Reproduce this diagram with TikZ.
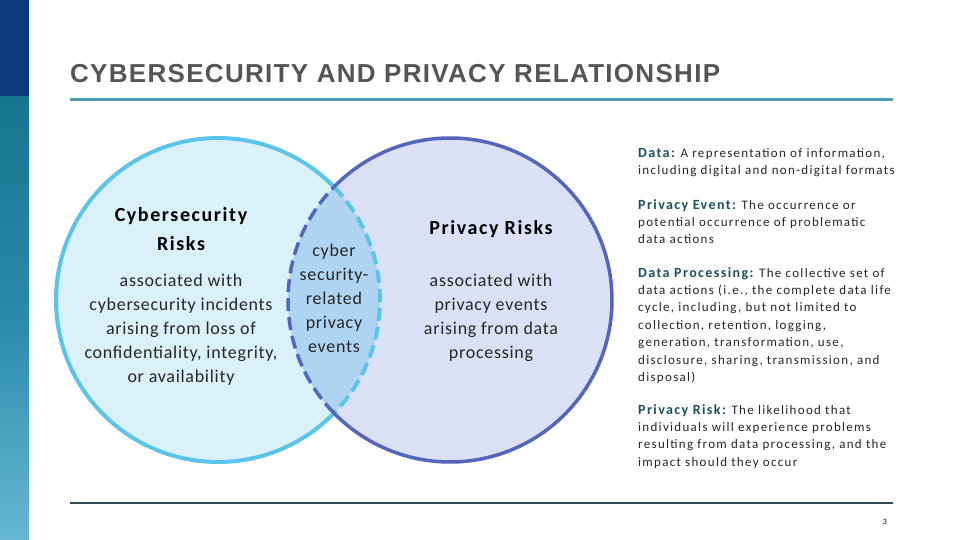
\documentclass[tikz,border=0pt]{standalone}
\usepackage{fontspec}
\setmainfont{Carlito}
\newfontfamily\titlefont[LetterSpace=5]{Liberation Sans}
\newfontfamily\circfont[LetterSpace=4]{Carlito}
\newfontfamily\headfont[LetterSpace=8]{Carlito}
\newfontfamily\deffont[LetterSpace=10]{Carlito}
\usetikzlibrary{calc}
\definecolor{navy}{HTML}{0B3B7E}
\definecolor{tealtop}{HTML}{15758F}
\definecolor{tealmid}{HTML}{2A8AAA}
\definecolor{tealbot}{HTML}{66B8D4}
\definecolor{titlegray}{HTML}{555555}
\definecolor{ruleteal}{HTML}{4A9DB5}
\definecolor{ruledark}{HTML}{2F4A58}
\definecolor{cyfill}{HTML}{DAF1FA}
\definecolor{cystroke}{HTML}{5CC4EA}
\definecolor{prfill}{HTML}{DCE0F4}
\definecolor{prstroke}{HTML}{5366BC}
\definecolor{ovfill}{HTML}{AED4F1}
\definecolor{termcol}{HTML}{1D4F5E}
\definecolor{bodytext}{HTML}{262626}
\tikzset{
  circhead/.style={font=\headfont\fontsize{20}{29}\selectfont\bfseries, text=black, align=center},
  circbody/.style={font=\circfont\fontsize{18}{24}\selectfont, text=bodytext, align=center},
  defn/.style={font=\deffont\fontsize{13}{17.4}\selectfont, text=bodytext, align=left, anchor=north west, inner sep=0pt},
}
\newcommand{\trm}[1]{{\fontsize{14}{17.4}\selectfont\bfseries\color{termcol}#1}}
\begin{document}
\begin{tikzpicture}[x=1pt,y=-1pt]
\useasboundingbox (0,0) rectangle (960,540);
\fill[white] (0,0) rectangle (960,540);
% left strip
\fill[navy] (0,0) rectangle (29,97);
\shade[top color=tealtop, bottom color=tealbot, middle color=tealmid] (0,97) rectangle (29,540);
% title
\node[anchor=base west, inner sep=0pt, text=titlegray, font=\titlefont\bfseries\fontsize{26}{30}\selectfont] (title) at (70,83) {CYBERSECURITY AND PRIVACY RELATIONSHIP};
\coordinate (tl1) at (70,100);
\coordinate (tl2) at (893,100);
\draw[ruleteal, line width=3pt] (tl1) -- (tl2);
% bottom rule
\coordinate (bl1) at (70,503);
\coordinate (bl2) at (893,503);
\draw[ruledark, line width=1.2pt] (bl1) -- (bl2);
\node[font=\fontsize{8}{10}\selectfont, text=black, inner sep=0pt] (pagenum) at (885,522) {3};
% circles
\coordinate (cL) at (218,300);
\coordinate (cR) at (450,300);
\fill[cyfill] (cL) circle (162);
\fill[prfill] (cR) circle (162);
\begin{scope}
\clip (cL) circle (162);
\fill[ovfill] (cR) circle (162);
\end{scope}
% strokes
\draw[cystroke, line width=4pt] (cL) ++(44.27:162) arc (44.27:315.73:162);
\draw[cystroke, line width=4pt, dash pattern=on 13pt off 6pt] (cL) ++(-44.27:162) arc (-44.27:44.27:162);
\draw[prstroke, line width=3.5pt] (cR) ++(-135.73:162) arc (-135.73:135.73:162);
\draw[prstroke, line width=3.5pt, dash pattern=on 13pt off 6pt] (cR) ++(135.73:162) arc (135.73:224.27:162);
% circle texts
\node[circhead] (cyhead) at (181,229) {Cybersecurity\\Risks};
\node[circbody] (cybody) at (181,330) {associated with\\cybersecurity incidents\\arising from loss of\\confidentiality, integrity,\\or availability};
\node[circbody] (ovbody) at (334,298) {cyber\\security-\\related\\privacy\\events};
\node[circhead] (prhead) at (491,229) {Privacy Risks};
\node[circbody] (prbody) at (491,318) {associated with\\privacy events\\arising from data\\processing};
% definitions
\node[defn] (dData) at (638,148) {\trm{Data:} A representation of information,\\including digital and non-digital formats};
\node[defn] (dEvent) at (638,199) {\trm{Privacy Event:} The occurrence or\\potential occurrence of problematic\\data actions};
\node[defn] (dProc) at (638,267) {\trm{Data Processing:} The collective set of\\data actions (i.e., the complete data life\\cycle, including, but not limited to\\collection, retention, logging,\\generation, transformation, use,\\disclosure, sharing, transmission, and\\disposal)};
\node[defn] (dRisk) at (638,404) {\trm{Privacy Risk:} The likelihood that\\individuals will experience problems\\resulting from data processing, and the\\impact should they occur};
\end{tikzpicture}
\end{document}
